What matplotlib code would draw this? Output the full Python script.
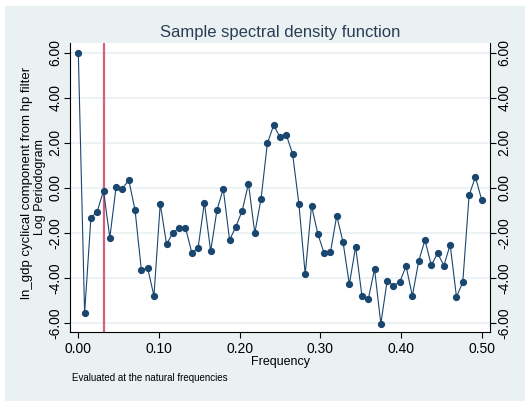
import numpy as np
import matplotlib
matplotlib.use("Agg")
import matplotlib.pyplot as plt
from matplotlib.patches import Rectangle

plt.rcParams['font.family'] = ['Liberation Sans', 'DejaVu Sans']

# natural frequencies k/128, k = 0..64
freq = np.arange(65) / 128
log_pgram = [6.01, -5.57, -1.32, -1.05, -0.12, -2.21, 0.06, -0.04, 0.36, -0.98,
             -3.64, -3.56, -4.80, -0.70, -2.50, -2.00, -1.76, -1.76, -2.87, -2.68,
             -0.65, -2.81, -0.98, -0.04, -2.31, -1.72, -1.01, 0.19, -2.01, -0.47,
             1.99, 2.79, 2.25, 2.36, 1.51, -0.71, -3.84, -0.79, -2.04, -2.90,
             -2.86, -1.24, -2.40, -4.28, -2.61, -4.80, -4.95, -3.61, -6.03, -4.12,
             -4.34, -4.18, -3.47, -4.80, -3.26, -2.31, -3.44, -2.90, -3.45, -2.52,
             -4.84, -4.19, -0.33, 0.49, -0.53]
cutoff = 1 / 32

yticks = [-6, -4, -2, 0, 2, 4, 6]
ytick_labels = ["-6.00", "-4.00", "-2.00", "0.00", "2.00", "4.00", "6.00"]
xticks = [0, 0.1, 0.2, 0.3, 0.4, 0.5]
xtick_labels = ["0.00", "0.10", "0.20", "0.30", "0.40", "0.50"]

bg = "#eaf1f3"
navy = "#1a476f"

fig = plt.figure(figsize=(5.25, 4.01), dpi=100, facecolor="white")
fig.patches.append(Rectangle((5 / 525, 0), 1, 1 - 6 / 401, transform=fig.transFigure,
                             facecolor=bg, edgecolor="none", zorder=-10))

ax = fig.add_axes([70 / 525, 69 / 401, 420 / 525, 289 / 401])
ax.set_facecolor("white")

for y in yticks:
    ax.axhline(y, color="#eaf1f3", lw=1.2, zorder=0)

ax.axvline(cutoff, color="#d4607c", lw=1.6, zorder=1)
ax.plot(freq, log_pgram, color=navy, lw=0.8, marker="o", ms=4.2,
        markerfacecolor=navy, markeredgecolor=navy, zorder=2)

ax.set_xlim(-0.0103, 0.5103)
ax.set_ylim(-6.4, 6.44)

ax.set_xticks(xticks)
ax.set_xticklabels(xtick_labels)
ax.set_yticks(yticks)
ax.set_yticklabels(ytick_labels, rotation=90, va="center")

ax.tick_params(axis="x", length=4, width=0.8, pad=3, labelsize=10)
ax.tick_params(axis="y", length=4, width=0.8, pad=1.5, labelsize=10,
               right=True, labelright=True)
for lab in ax.get_yticklabels(which="both"):
    lab.set_rotation(90)
    lab.set_va("center")

ax.spines["top"].set_visible(False)
for s in ["left", "right", "bottom"]:
    ax.spines[s].set_linewidth(0.8)
    ax.spines[s].set_color("black")

ax.set_xlabel("Frequency", fontsize=9, labelpad=0)

fig.text(280 / 525, 1 - 32 / 401, "Sample spectral density function",
         ha="center", va="center", fontsize=12, color="#2a3d55")

mid = 1 - 183 / 401
fig.text(27 / 525, mid, "ln_gdp cyclical component from hp filter",
         rotation=90, ha="center", va="center", fontsize=9.5)
fig.text(40 / 525, 1 - 187 / 401, "Log Periodogram",
         rotation=90, ha="center", va="center", fontsize=9)

fig.text(72 / 525, 1 - 378 / 401, "Evaluated at the natural frequencies",
         ha="left", va="center", fontsize=7)

fig.savefig("out.png", dpi=100, facecolor=fig.get_facecolor())
